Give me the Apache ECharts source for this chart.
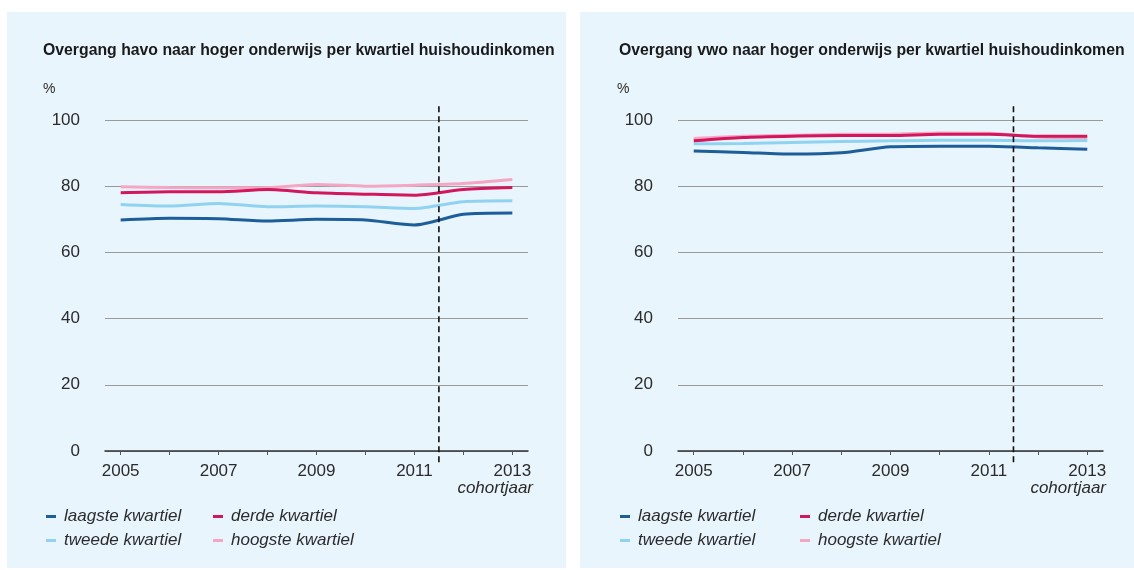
<!DOCTYPE html>
<html>
<head>
<meta charset="utf-8">
<script src="https://cdn.jsdelivr.net/npm/echarts@6/dist/echarts.min.js"></script>
<style>
html,body{margin:0;padding:0;background:#fff;}
#c{width:1134px;height:570px;}
</style>
</head>
<body>
<div id="c"></div>
<script>
const years = [2005, 2006, 2007, 2008, 2009, 2010, 2011, 2012, 2013];
const yearLabels = [2005, 2007, 2009, 2011, 2013];
const yTicks = [0, 20, 40, 60, 80, 100];
const seriesNames = ['laagste kwartiel', 'tweede kwartiel', 'derde kwartiel', 'hoogste kwartiel'];

const havoLaagste = [69.8, 70.3, 70.2, 69.5, 70.0, 69.8, 68.3, 71.5, 71.9];
const havoTweede  = [74.5, 74.0, 74.8, 73.8, 74.0, 73.8, 73.3, 75.3, 75.6];
const havoDerde   = [78.0, 78.3, 78.3, 79.0, 78.0, 77.6, 77.3, 79.0, 79.6];
const havoHoogste = [79.8, 79.6, 79.5, 79.6, 80.5, 80.0, 80.3, 80.8, 82.0];

const vwoLaagste = [90.6, 90.2, 89.7, 90.1, 91.9, 92.1, 92.1, 91.6, 91.2];
const vwoTweede  = [92.8, 92.9, 93.2, 93.5, 93.7, 93.9, 93.9, 93.7, 93.8];
const vwoDerde   = [93.7, 94.7, 95.1, 95.3, 95.3, 95.7, 95.7, 95.1, 95.1];
const vwoHoogste = [94.4, 95.1, 95.4, 95.7, 95.7, 96.1, 96.0, 94.9, 94.7];

const dividerYear = 2011.5;
const titles = [
  'Overgang havo naar hoger onderwijs per kwartiel huishoudinkomen',
  'Overgang vwo naar hoger onderwijs per kwartiel huishoudinkomen'
];

const colors = {
  'laagste kwartiel': '#1d5d9a',
  'tweede kwartiel': '#90d3f1',
  'derde kwartiel': '#d2175c',
  'hoogste kwartiel': '#f4a6c3'
};
const FONT = "'Liberation Sans', Arial, sans-serif";
const TXT = '#2b2b2b';

const panels = [
  {grid: {left: 105, top: 120, width: 423, height: 331}, data: [havoLaagste, havoTweede, havoDerde, havoHoogste], px: 7, pw: 559, titleX: 38, legendX: 46, legendX2: 213},
  {grid: {left: 678, top: 120, width: 425, height: 331}, data: [vwoLaagste, vwoTweede, vwoDerde, vwoHoogste], px: 580, pw: 554, titleX: 614, legendX: 620, legendX2: 800}
];

const drawOrder = [0, 1, 3, 2];

const option = {
  animation: false,
  backgroundColor: '#ffffff',
  textStyle: {fontFamily: FONT},
  title: panels.map((p, i) => ({
    text: titles[i], left: p.titleX, top: 38,
    textStyle: {fontFamily: FONT, fontSize: 15.8, fontWeight: 'bold', color: '#1a1a1a'}
  })),
  graphic: [],
  grid: panels.map(p => Object.assign({containLabel: false}, p.grid)),
  xAxis: panels.map((p, i) => ({
    type: 'value', gridIndex: i, min: 2004.68, max: 2013.32,
    axisLine: {show: true, onZero: false, lineStyle: {color: '#333', width: 1.5}},
    axisTick: {show: true, customValues: years, length: 4, lineStyle: {color: '#555'}},
    axisLabel: {customValues: yearLabels, color: TXT, fontSize: 17, fontFamily: FONT, margin: 12,
      formatter: v => String(v)},
    splitLine: {show: false}
  })),
  yAxis: panels.map((p, i) => ({
    type: 'value', gridIndex: i, min: 0, max: 100, interval: 20,
    axisLine: {show: false}, axisTick: {show: false},
    axisLabel: {color: TXT, fontSize: 17, fontFamily: FONT, margin: 25},
    splitLine: {lineStyle: {color: '#9a9a9a', width: 1}}
  })),
  legend: [],
  series: []
};

panels.forEach((p, i) => {
  option.graphic.push({
    type: 'rect', z: -10, shape: {x: p.px, y: 12, width: p.pw, height: 556},
    style: {fill: '#e9f5fc'}
  });
  option.graphic.push({
    type: 'text', left: i === 0 ? 43 : 617, top: 82,
    style: {text: '%', fill: TXT, fontSize: 14, fontFamily: FONT}
  });
  option.graphic.push({
    type: 'text', right: i === 0 ? 1134 - 533 : 1134 - 1106, top: 480,
    style: {text: 'cohortjaar', fill: TXT, fontSize: 17, fontStyle: 'italic', fontFamily: FONT}
  });
  drawOrder.forEach(k => {
    option.series.push({
      name: seriesNames[k], type: 'line', xAxisIndex: i, yAxisIndex: i,
      data: years.map((y, j) => [y, p.data[k][j]]),
      showSymbol: false, symbol: 'none', smooth: 0.25,
      lineStyle: {color: colors[seriesNames[k]], width: 3},
      itemStyle: {color: colors[seriesNames[k]]}
    });
  });
  option.series.push({
    name: 'divider', type: 'line', xAxisIndex: i, yAxisIndex: i, clip: false, silent: true,
    data: [[dividerYear, -3.4], [dividerYear, 105]], symbol: 'none', z: 5,
    lineStyle: {color: '#111', width: 1.6, type: [6, 4]}
  });
  const pos = [
    [p.legendX, 508, seriesNames[0]], [p.legendX2, 508, seriesNames[2]],
    [p.legendX, 532, seriesNames[1]], [p.legendX2, 532, seriesNames[3]]
  ];
  pos.forEach(([x, y, n]) => {
    option.legend.push({
      left: x, top: y, data: [n], icon: 'rect', itemWidth: 10, itemHeight: 3,
      selectedMode: false, padding: 0,
      textStyle: {fontSize: 17, fontStyle: 'italic', color: TXT, fontFamily: FONT, padding: [0, 0, 0, 3]}
    });
  });
});

const chart = echarts.init(document.getElementById('c'), null, {renderer: 'canvas'});
chart.setOption(option);
</script>
</body>
</html>
